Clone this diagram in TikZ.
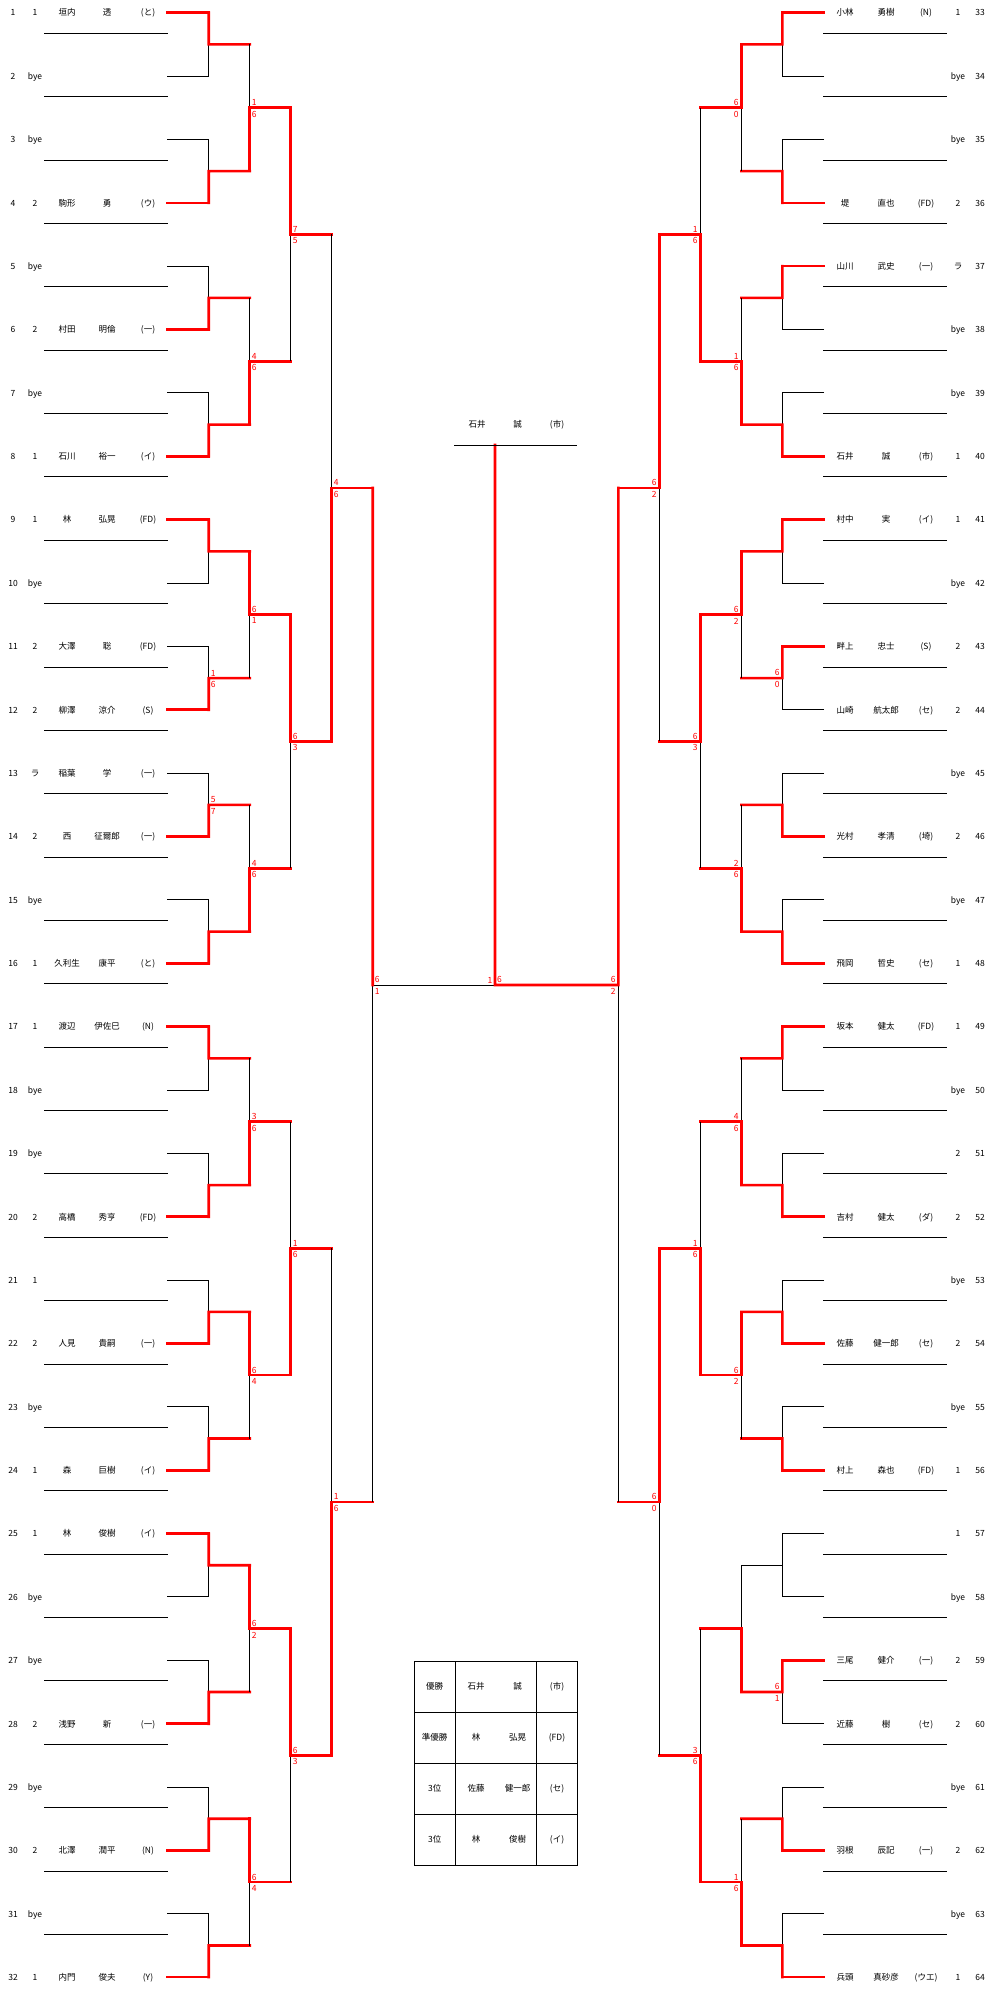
\documentclass[tikz,border=0pt]{standalone}
\usepackage{fontspec}
\setmainfont{Noto Sans CJK JP}
\usetikzlibrary{calc}

\newcommand\rowfont{\fontsize{8.5}{10}\selectfont}
\newcommand\dxL{41}
\newcommand\dxR{-41}
% one bout: upper in, lower in, winner in, out name, upper score, lower score, side
\newcommand\bout[7]{%
  \coordinate (#4m) at ($(#1)!.5!(#2)$);
  \coordinate (#4) at ($(#4m)+(\csname dx#7\endcsname,0)$);
  \draw[lose] (#1) -- (#2) (#4m) -- (#4);
  \ifx\relax#3\relax\else\draw[win] (#3) -- (#4m) -- (#4);\fi
  \ifx\relax#5\relax\else
    \node[score, top#7] (#4t) at (#4m) {#5};
    \node[score, bot#7] (#4b) at (#4m) {#6};
  \fi}
% first round: rows i and j, winner row
\newcommand\rone[7]{%
  \draw[lose] (p#1) -- (q#1) (p#2) -- (q#2);
  \ifx\relax#3\relax
    \bout{q#1}{q#2}{}{#4}{#5}{#6}{#7}%
  \else
    \draw[win] (p#3) -- (q#3);
    \bout{q#1}{q#2}{q#3}{#4}{#5}{#6}{#7}%
  \fi}

\begin{document}
\begin{tikzpicture}[
  x=1pt, y=-1pt,
  win/.style={draw=red, line width=2.6pt, line cap=rect},
  lose/.style={draw=black, line width=1pt},
  cell/.style={inner sep=0pt, anchor=base, font=\rowfont},
  score/.style={inner sep=0pt, text=red, font=\rowfont},
  topL/.style={anchor=south west, xshift=2pt, yshift=1.8pt},
  botL/.style={anchor=north west, xshift=2pt, yshift=-3pt},
  topR/.style={anchor=south east, xshift=-2.5pt, yshift=1.8pt},
  botR/.style={anchor=north east, xshift=-2.5pt, yshift=-3pt}
]
\useasboundingbox (0,0) rectangle (993,1999);

% left half
\foreach \i/\s/\a/\b/\c in {1/1/垣内/透/(と), 2/bye/{}/{}/{}, 3/bye/{}/{}/{}, 4/2/駒形/勇/(ウ),
  5/bye/{}/{}/{}, 6/2/村田/明倫/(一), 7/bye/{}/{}/{}, 8/1/石川/裕一/(イ),
  9/1/林/弘晃/(FD), 10/bye/{}/{}/{}, 11/2/大澤/聡/(FD), 12/2/柳澤/涼介/(S),
  13/ラ/稲葉/学/(一), 14/2/西/征爾郎/(一), 15/bye/{}/{}/{}, 16/1/久利生/康平/(と),
  17/1/渡辺/伊佐巳/(N), 18/bye/{}/{}/{}, 19/bye/{}/{}/{}, 20/2/高橋/秀亨/(FD),
  21/1/{}/{}/{}, 22/2/人見/貴嗣/(一), 23/bye/{}/{}/{}, 24/1/森/巨樹/(イ),
  25/1/林/俊樹/(イ), 26/bye/{}/{}/{}, 27/bye/{}/{}/{}, 28/2/浅野/新/(一),
  29/bye/{}/{}/{}, 30/2/北澤/潤平/(N), 31/bye/{}/{}/{}, 32/1/内門/俊夫/(Y)} {
  \pgfmathsetmacro\y{12.7+(\i-1)*63.37}
  \coordinate (p\i) at (167,\y);
  \coordinate (q\i) at (208.7,\y);
  \node[cell] (no\i) at (13,\y+3.3) {\i};
  \node[cell] (sd\i) at (35,\y+3.3) {\s};
  \node[cell] (fa\i) at (67,\y+3.3) {\a};
  \node[cell] (gv\i) at (107,\y+3.3) {\b};
  \node[cell] (cl\i) at (148,\y+3.3) {\c};
  \ifnum\i<32 \draw[lose] (44,\y+20.6) -- (168,\y+20.6); \fi
}

% right half
\foreach \i/\s/\a/\b/\c in {33/1/小林/勇樹/(N), 34/bye/{}/{}/{}, 35/bye/{}/{}/{}, 36/2/堤/直也/(FD),
  37/ラ/山川/武史/(一), 38/bye/{}/{}/{}, 39/bye/{}/{}/{}, 40/1/石井/誠/(市),
  41/1/村中/実/(イ), 42/bye/{}/{}/{}, 43/2/畔上/忠士/(S), 44/2/山崎/航太郎/(セ),
  45/bye/{}/{}/{}, 46/2/光村/孝清/(埼), 47/bye/{}/{}/{}, 48/1/飛岡/哲史/(セ),
  49/1/坂本/健太/(FD), 50/bye/{}/{}/{}, 51/2/{}/{}/{}, 52/2/吉村/健太/(ダ),
  53/bye/{}/{}/{}, 54/2/佐藤/健一郎/(セ), 55/bye/{}/{}/{}, 56/1/村上/森也/(FD),
  57/1/{}/{}/{}, 58/bye/{}/{}/{}, 59/2/三尾/健介/(一), 60/2/近藤/樹/(セ),
  61/bye/{}/{}/{}, 62/2/羽根/辰記/(一), 63/bye/{}/{}/{}, 64/1/兵頭/真砂彦/(ウエ)} {
  \pgfmathsetmacro\y{12.7+(\i-33)*63.37}
  \coordinate (p\i) at (824,\y);
  \coordinate (q\i) at (782.3,\y);
  \node[cell] (fa\i) at (845,\y+3.3) {\a};
  \node[cell] (gv\i) at (886,\y+3.3) {\b};
  \node[cell] (cl\i) at (926,\y+3.3) {\c};
  \node[cell] (sd\i) at (958,\y+3.3) {\s};
  \node[cell] (no\i) at (980,\y+3.3) {\i};
  \ifnum\i<64 \draw[lose] (823,\y+20.6) -- (946.7,\y+20.6); \fi
}

% left rounds
\rone{1}{2}{1}{a1}{}{}{L}
\rone{3}{4}{4}{a2}{}{}{L}
\rone{5}{6}{6}{a3}{}{}{L}
\rone{7}{8}{8}{a4}{}{}{L}
\rone{9}{10}{9}{a5}{}{}{L}
\rone{11}{12}{12}{a6}{1}{6}{L}
\rone{13}{14}{14}{a7}{5}{7}{L}
\rone{15}{16}{16}{a8}{}{}{L}
\rone{17}{18}{17}{a9}{}{}{L}
\rone{19}{20}{20}{a10}{}{}{L}
\rone{21}{22}{22}{a11}{}{}{L}
\rone{23}{24}{24}{a12}{}{}{L}
\rone{25}{26}{25}{a13}{}{}{L}
\rone{27}{28}{28}{a14}{}{}{L}
\rone{29}{30}{30}{a15}{}{}{L}
\rone{31}{32}{32}{a16}{}{}{L}

\bout{a1}{a2}{a2}{b1}{1}{6}{L}
\bout{a3}{a4}{a4}{b2}{4}{6}{L}
\bout{a5}{a6}{a5}{b3}{6}{1}{L}
\bout{a7}{a8}{a8}{b4}{4}{6}{L}
\bout{a9}{a10}{a10}{b5}{3}{6}{L}
\bout{a11}{a12}{a11}{b6}{6}{4}{L}
\bout{a13}{a14}{a13}{b7}{6}{2}{L}
\bout{a15}{a16}{a15}{b8}{6}{4}{L}

\bout{b1}{b2}{b1}{c1}{7}{5}{L}
\bout{b3}{b4}{b3}{c2}{6}{3}{L}
\bout{b5}{b6}{b6}{c3}{1}{6}{L}
\bout{b7}{b8}{b7}{c4}{6}{3}{L}

\bout{c1}{c2}{c2}{d1}{4}{6}{L}
\bout{c3}{c4}{c4}{d2}{1}{6}{L}

% right rounds
\rone{33}{34}{33}{e1}{}{}{R}
\rone{35}{36}{36}{e2}{}{}{R}
\rone{37}{38}{37}{e3}{}{}{R}
\rone{39}{40}{40}{e4}{}{}{R}
\rone{41}{42}{41}{e5}{}{}{R}
\rone{43}{44}{43}{e6}{6}{0}{R}
\rone{45}{46}{46}{e7}{}{}{R}
\rone{47}{48}{48}{e8}{}{}{R}
\rone{49}{50}{49}{e9}{}{}{R}
\rone{51}{52}{52}{e10}{}{}{R}
\rone{53}{54}{54}{e11}{}{}{R}
\rone{55}{56}{56}{e12}{}{}{R}
\rone{57}{58}{}{e13}{}{}{R}
\rone{59}{60}{59}{e14}{6}{1}{R}
\rone{61}{62}{62}{e15}{}{}{R}
\rone{63}{64}{64}{e16}{}{}{R}

\bout{e1}{e2}{e1}{f1}{6}{0}{R}
\bout{e3}{e4}{e4}{f2}{1}{6}{R}
\bout{e5}{e6}{e5}{f3}{6}{2}{R}
\bout{e7}{e8}{e8}{f4}{2}{6}{R}
\bout{e9}{e10}{e10}{f5}{4}{6}{R}
\bout{e11}{e12}{e11}{f6}{6}{2}{R}
\bout{e13}{e14}{e14}{f7}{}{}{R}
\bout{e15}{e16}{e16}{f8}{1}{6}{R}

\bout{f1}{f2}{f2}{g1}{1}{6}{R}
\bout{f3}{f4}{f3}{g2}{6}{3}{R}
\bout{f5}{f6}{f6}{g3}{1}{6}{R}
\bout{f7}{f8}{f8}{g4}{3}{6}{R}

\bout{g1}{g2}{g1}{h1}{6}{2}{R}
\bout{g3}{g4}{g3}{h2}{6}{0}{R}

% semifinals and final
\coordinate (dm) at (372.7,985);
\coordinate (hm) at (618.3,985);
\coordinate (fin) at (495,985);
\coordinate (champ) at (495,445);
\draw[lose] (d1) -- (d2) (dm) -- (fin) (h1) -- (h2);
\draw[win] (d1) -- (dm);
\draw[win] (h1) -- (hm) -- (fin) -- (champ);
\node[score, topL] (dmt) at (dm) {6};
\node[score, botL] (dmb) at (dm) {1};
\node[score, topR] (hmt) at (hm) {6};
\node[score, botR] (hmb) at (hm) {2};
\node[score, topR] (finl) at (fin) {1};
\node[score, topL] (finr) at (fin) {6};

% champion
\coordinate (cw) at (454,445);
\coordinate (ce) at (577,445);
\draw[lose] (cw) -- (ce);
\node[cell] (cha) at (477,427.8) {石井};
\node[cell] (chb) at (517.5,427.8) {誠};
\node[cell] (chc) at (557,427.8) {(市)};

% result table
\draw[lose] (414.3,1661) rectangle (577.5,1865);
\foreach \yy in {1712,1763,1814} \draw[lose] (414.3,\yy) -- (577.5,\yy);
\foreach \xx in {455,536.7} \draw[lose] (\xx,1661) -- (\xx,1865);
\foreach \j/\r/\a/\b/\c in {0/優勝/石井/誠/(市), 1/準優勝/林/弘晃/(FD),
  2/3位/佐藤/健一郎/(セ), 3/3位/林/俊樹/(イ)} {
  \pgfmathsetmacro\y{1686.5+\j*51+3.3}
  \node[cell] (rk\j) at (434.7,\y) {\r};
  \node[cell] (rf\j) at (476,\y) {\a};
  \node[cell] (rg\j) at (517.5,\y) {\b};
  \node[cell] (rc\j) at (557,\y) {\c};
}
\end{tikzpicture}
\end{document}
